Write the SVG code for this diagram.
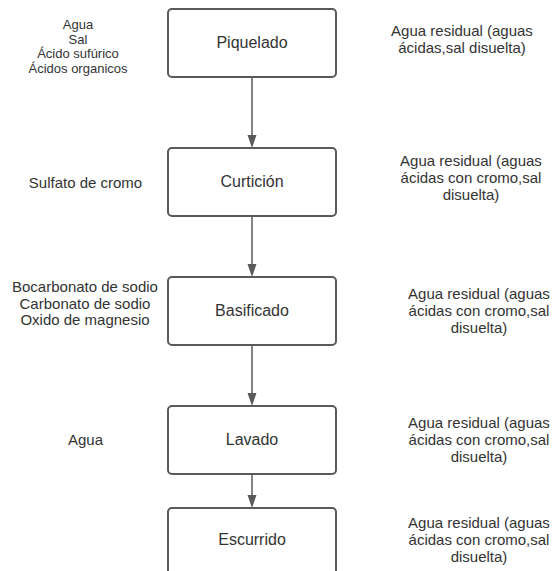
<svg xmlns="http://www.w3.org/2000/svg" width="553" height="571" viewBox="0 0 553 571">
<style>
.box{fill:#fff;stroke:#5a5a5a;stroke-width:2}
.t{font-family:"Liberation Sans",Arial,sans-serif;fill:#333;text-anchor:middle}
.n{font-size:16px}
.s{font-size:13px}
.m{font-size:15px}
.c{stroke:#5a5a5a;stroke-width:1.5;fill:none}
.h{fill:#5a5a5a}
</style>
<rect width="553" height="571" fill="#fff"/>
<g id="connectors">
<line class="c" x1="252" y1="77" x2="252" y2="136"/>
<polygon class="h" points="247.5,135 256.5,135 252,148"/>
<line class="c" x1="252" y1="216" x2="252" y2="265"/>
<polygon class="h" points="247.5,264 256.5,264 252,277"/>
<line class="c" x1="252" y1="345" x2="252" y2="394"/>
<polygon class="h" points="247.5,393 256.5,393 252,406"/>
<line class="c" x1="252" y1="474" x2="252" y2="496"/>
<polygon class="h" points="247.5,495 256.5,495 252,508"/>
</g>
<g id="piquelado">
<rect class="box" x="168" y="9" width="168" height="68" rx="4"/>
<text class="t n" x="252" y="48">Piquelado</text>
</g>
<g id="curticion">
<rect class="box" x="168" y="148" width="168" height="68" rx="4"/>
<text class="t n" x="252" y="187">Curtición</text>
</g>
<g id="basificado">
<rect class="box" x="168" y="277" width="168" height="68" rx="4"/>
<text class="t n" x="252" y="316">Basificado</text>
</g>
<g id="lavado">
<rect class="box" x="168" y="406" width="168" height="68" rx="4"/>
<text class="t n" x="252" y="445">Lavado</text>
</g>
<g id="escurrido">
<rect class="box" x="168" y="508" width="168" height="68" rx="4"/>
<text class="t n" x="252" y="545">Escurrido</text>
</g>
<g id="inputs">
<text class="t s" x="78" y="29">Agua</text>
<text class="t s" x="78" y="44">Sal</text>
<text class="t s" x="78" y="58">Ácido sufúrico</text>
<text class="t s" x="78" y="73">Ácidos organicos</text>
<text class="t m" x="85.5" y="188">Sulfato de cromo</text>
<text class="t m" x="85" y="292">Bocarbonato de sodio</text>
<text class="t m" x="85" y="308.5">Carbonato de sodio</text>
<text class="t m" x="85" y="325">Oxido de magnesio</text>
<text class="t m" x="85.5" y="445">Agua</text>
</g>
<g id="outputs">
<text class="t m" x="462" y="36">Agua residual (aguas</text>
<text class="t m" x="462" y="53">ácidas,sal disuelta)</text>
<text class="t m" x="471" y="166">Agua residual (aguas</text>
<text class="t m" x="471" y="183">ácidas con cromo,sal</text>
<text class="t m" x="471" y="200">disuelta)</text>
<text class="t m" x="479" y="299">Agua residual (aguas</text>
<text class="t m" x="479" y="316">ácidas con cromo,sal</text>
<text class="t m" x="479" y="333">disuelta)</text>
<text class="t m" x="479" y="428">Agua residual (aguas</text>
<text class="t m" x="479" y="445">ácidas con cromo,sal</text>
<text class="t m" x="479" y="462">disuelta)</text>
<text class="t m" x="479" y="528">Agua residual (aguas</text>
<text class="t m" x="479" y="545">ácidas con cromo,sal</text>
<text class="t m" x="479" y="562">disuelta)</text>
</g>
</svg>
